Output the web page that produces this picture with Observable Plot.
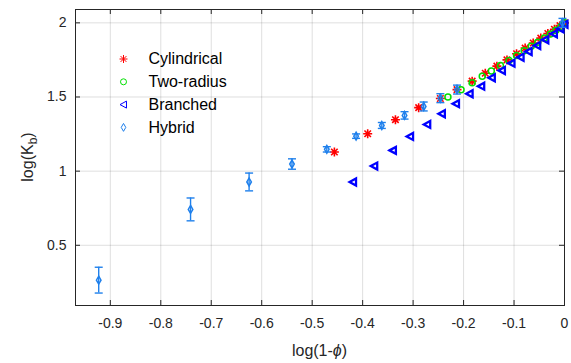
<!DOCTYPE html>
<html><head><meta charset="utf-8">
<script src="https://cdn.jsdelivr.net/npm/d3@7"></script>
<script src="https://cdn.jsdelivr.net/npm/@observablehq/plot@0.6"></script>
<style>body{margin:0;background:#fff;font-family:"Liberation Sans",Arial,sans-serif}</style>
</head><body><div id="chart"></div>
<script>
// ---- data ----
const seriesNames = ["Cylindrical", "Two-radius", "Branched", "Hybrid"];
const xTicks = [-0.9, -0.8, -0.7, -0.6, -0.5, -0.4, -0.3, -0.2, -0.1, 0];
const yTicks = [0.5, 1, 1.5, 2];

const cylX = [-0.456, -0.390, -0.335, -0.289, -0.246, -0.213, -0.183, -0.157, -0.134, -0.114, -0.095, -0.078, -0.062, -0.047, -0.033, -0.020, -0.009, 0];
const cylY = [1.129, 1.252, 1.347, 1.428, 1.490, 1.550, 1.607, 1.660, 1.708, 1.750, 1.792, 1.830, 1.864, 1.897, 1.928, 1.957, 1.981, 2.0];

const twoX = [-0.231, -0.205, -0.183, -0.163, -0.145, -0.127, -0.110, -0.095, -0.080, -0.066, -0.053, -0.040, -0.028, -0.017, -0.007, 0];
const twoY = [1.500, 1.549, 1.596, 1.640, 1.676, 1.712, 1.746, 1.780, 1.812, 1.842, 1.870, 1.898, 1.925, 1.950, 1.975, 2.0];

const brX = [-0.419, -0.377, -0.340, -0.306, -0.272, -0.243, -0.215, -0.188, -0.165, -0.144, -0.124, -0.105, -0.087, -0.071, -0.054, -0.038, -0.021, -0.008, 0];
const brY = [0.927, 1.034, 1.140, 1.234, 1.315, 1.387, 1.455, 1.522, 1.573, 1.630, 1.679, 1.728, 1.768, 1.807, 1.847, 1.886, 1.926, 1.960, 1.99];

const hybX = [-0.923, -0.741, -0.625, -0.540, -0.471, -0.413, -0.362, -0.317, -0.279, -0.246, -0.213, -0.004];
const hybY = [0.265, 0.742, 0.927, 1.048, 1.147, 1.236, 1.308, 1.376, 1.436, 1.492, 1.550, 2.000];
const hybErr = [0.087, 0.077, 0.060, 0.035, 0.018, 0.015, 0.020, 0.025, 0.030, 0.030, 0.030, 0.030];

// ---- build tables ----
const zip = (xs, ys) => xs.map((x, i) => ({x, y: ys[i]}));
const cyl = zip(cylX, cylY);
const two = zip(twoX, twoY);
const br = zip(brX, brY);
const hyb = hybX.map((x, i) => ({x, y: hybY[i], lo: hybY[i] - hybErr[i], hi: hybY[i] + hybErr[i]}));

// ---- custom symbols (size = pi r^2) ----
const rr = s => Math.sqrt(s / Math.PI);
const asterisk = {draw(c, s) { const r = rr(s), d = r * 0.72;
  c.moveTo(-r, 0); c.lineTo(r, 0); c.moveTo(0, -r); c.lineTo(0, r);
  c.moveTo(-d, -d); c.lineTo(d, d); c.moveTo(-d, d); c.lineTo(d, -d); }};
const triLeft = {draw(c, s) { const r = rr(s);
  c.moveTo(-r, 0); c.lineTo(r * 0.85, -r); c.lineTo(r * 0.85, r); c.closePath(); }};
const cap = {draw(c, s) { const r = rr(s); c.moveTo(-r, 0); c.lineTo(r, 0); }};

const colors = {cyl: "#ff0000", two: "#00e000", br: "#0000ff", hyb: "#1f80ec"};
const W = 571, H = 363, mL = 75, mR = 7, mT = 9, mB = 58;
const pw = W - mL - mR, ph = H - mT - mB;
const fmt = d => d === 0 ? "0" : String(+d.toFixed(1));

const legendItems = [
  {name: seriesNames[0], symbol: asterisk, r: 4, stroke: colors.cyl, sw: 1},
  {name: seriesNames[1], symbol: "circle", r: 3, stroke: colors.two, sw: 1},
  {name: seriesNames[2], symbol: triLeft, r: 3.5, stroke: colors.br, sw: 1},
  {name: seriesNames[3], symbol: "diamond", r: 2.4, stroke: colors.hyb, sw: 1}
];
const legendMarks = legendItems.flatMap((it, i) => [
  Plot.dot([it], {frameAnchor: "top-left", dx: 48, dy: 49.5 + i * 22.8, symbol: () => it.symbol, r: it.r, stroke: it.stroke, strokeWidth: it.sw, fill: "none"}),
  Plot.text([it], {frameAnchor: "top-left", lineAnchor: "middle", dx: 73, dy: 49.5 + i * 22.8, text: "name", textAnchor: "start", fontSize: 16, fill: "#000"})
]);

const plot = Plot.plot({
  width: W, height: H,
  marginLeft: mL, marginRight: mR, marginTop: mT, marginBottom: mB,
  style: {fontFamily: '"Liberation Sans", Arial, sans-serif', fontSize: "14px", color: "#262626", background: "#fff"},
  symbol: {type: "identity"},
  x: {domain: [-0.969, 0]},
  y: {domain: [0.094, 2.09]},
  marks: [
    Plot.gridX(xTicks, {stroke: "#000", strokeOpacity: 0.13}),
    Plot.gridY(yTicks, {stroke: "#000", strokeOpacity: 0.13}),
    Plot.axisX(xTicks, {tickSize: 0, tickPadding: 13, tickFormat: fmt, label: null, fontSize: 14}),
    Plot.axisY(yTicks, {tickSize: 0, tickPadding: 9, tickFormat: fmt, label: null, fontSize: 14}),
    Plot.tickX(xTicks, {x: d => d, insetTop: ph - 5, stroke: "#262626"}),
    Plot.tickX(xTicks, {x: d => d, insetBottom: ph - 5, stroke: "#262626"}),
    Plot.tickY(yTicks, {y: d => d, insetRight: pw - 5, stroke: "#262626"}),
    Plot.tickY(yTicks, {y: d => d, insetLeft: pw - 5, stroke: "#262626"}),
    Plot.frame({stroke: "#262626"}),
    ...legendMarks,
    Plot.dot(cyl, {x: "x", y: "y", symbol: () => asterisk, r: 4.5, stroke: colors.cyl, strokeWidth: 1.6, fill: "none"}),
    Plot.dot(two, {x: "x", y: "y", symbol: () => "circle", r: 3, stroke: colors.two, strokeWidth: 1.5, fill: "none"}),
    Plot.dot(br, {x: "x", y: "y", symbol: () => triLeft, r: 3.5, stroke: colors.br, strokeWidth: 2.3, fill: "none"}),
    Plot.ruleX(hyb, {x: "x", y1: "lo", y2: "hi", stroke: colors.hyb, strokeWidth: 1.4}),
    Plot.dot(hyb, {x: "x", y: "lo", symbol: () => cap, r: 4, stroke: colors.hyb, strokeWidth: 1.4}),
    Plot.dot(hyb, {x: "x", y: "hi", symbol: () => cap, r: 4, stroke: colors.hyb, strokeWidth: 1.4}),
    Plot.dot(hyb, {x: "x", y: "y", symbol: () => "diamond", r: 2.4, stroke: colors.hyb, strokeWidth: 1.5, fill: "none"})
  ]
});

// axis titles (with italic phi / subscript b)
const svg = d3.select(plot);
const xl = svg.append("text").attr("x", mL + pw / 2).attr("y", 356).attr("text-anchor", "middle")
  .attr("font-size", 16).attr("fill", "#262626");
xl.append("tspan").text("log(1-");
xl.append("tspan").attr("font-style", "italic").text("ϕ");
xl.append("tspan").text(")");
const yl = svg.append("text").attr("transform", `translate(27,${mT + ph / 2}) rotate(-90)`)
  .attr("text-anchor", "middle").attr("dy", "0.35em").attr("font-size", 16).attr("fill", "#262626");
yl.append("tspan").text("log(K");
yl.append("tspan").attr("dy", 4).attr("font-size", 12).text("b");
yl.append("tspan").attr("dy", -4).text(")");

document.getElementById("chart").appendChild(plot);
</script>
</body></html>
